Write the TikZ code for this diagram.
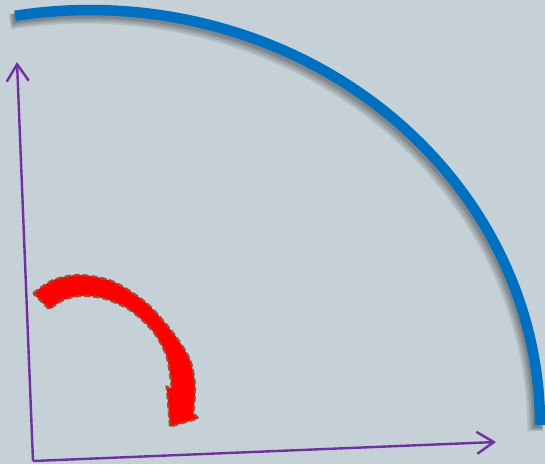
\documentclass[tikz,border=0pt]{standalone}
\usepackage{tikz}
\usetikzlibrary{arrows.meta}
\definecolor{bgcol}{RGB}{197,208,215}
\definecolor{axiscol}{RGB}{112,48,160}
\definecolor{arccol}{RGB}{0,112,192}
\definecolor{edgecol}{RGB}{165,75,50}
\begin{document}
\begin{tikzpicture}[
  x=1pt, y=-1pt,
  axis/.style={axiscol, line width=2.4pt, -{Straight Barb[length=17pt,width=22pt,line width=2.4pt]}},
  bigarc/.style={arccol, line width=10.5pt},
  arcshadow/.style={black, opacity=0.1},
  turn/.style={fill=red, draw=edgecol, line width=2.2pt, dash pattern=on 6pt off 3pt}
]
\useasboundingbox[fill=bgcol] (0,0) rectangle (545,464);
\coordinate (origin) at (33,461);
\coordinate (ytip) at (17,62);
\coordinate (xtip) at (496,442);
\coordinate (arcctr) at (90,425);
% shadow + quarter arc
\foreach \dx/\dy/\w in {-5/6/15, -4/5/13, -3/4/11, -2/3/10}
  \draw[arcshadow, line width=\w pt] (arcctr) ++(\dx,\dy) ++(-99.6:450 and 415) arc[start angle=-99.6, end angle=0, x radius=450, y radius=415];
\draw[bigarc] (arcctr) ++(-99.6:450 and 415) arc[start angle=-99.6, end angle=0, x radius=450, y radius=415];
% axes
\draw[axis] (origin) -- (ytip);
\draw[axis] (origin) -- (xtip);
% curved arrow
\path[turn] plot[smooth] coordinates {(33.3,293.3) (53.3,280) (80,275) (113.3,281.7) (146.7,303.3) (173.3,333.3) (190,360) (195,386.7) (193.3,413.3)}
  -- (198.3,418.3) -- (170,426.7) -- (166.7,386.7) -- (171.7,388.3)
  -- plot[smooth] coordinates {(171.7,388.3) (166.7,356.7) (153.3,331.7) (130,310) (103.3,298.3) (80,296) (63.3,300) (49.3,309.3)}
  -- cycle;
\end{tikzpicture}
\end{document}
